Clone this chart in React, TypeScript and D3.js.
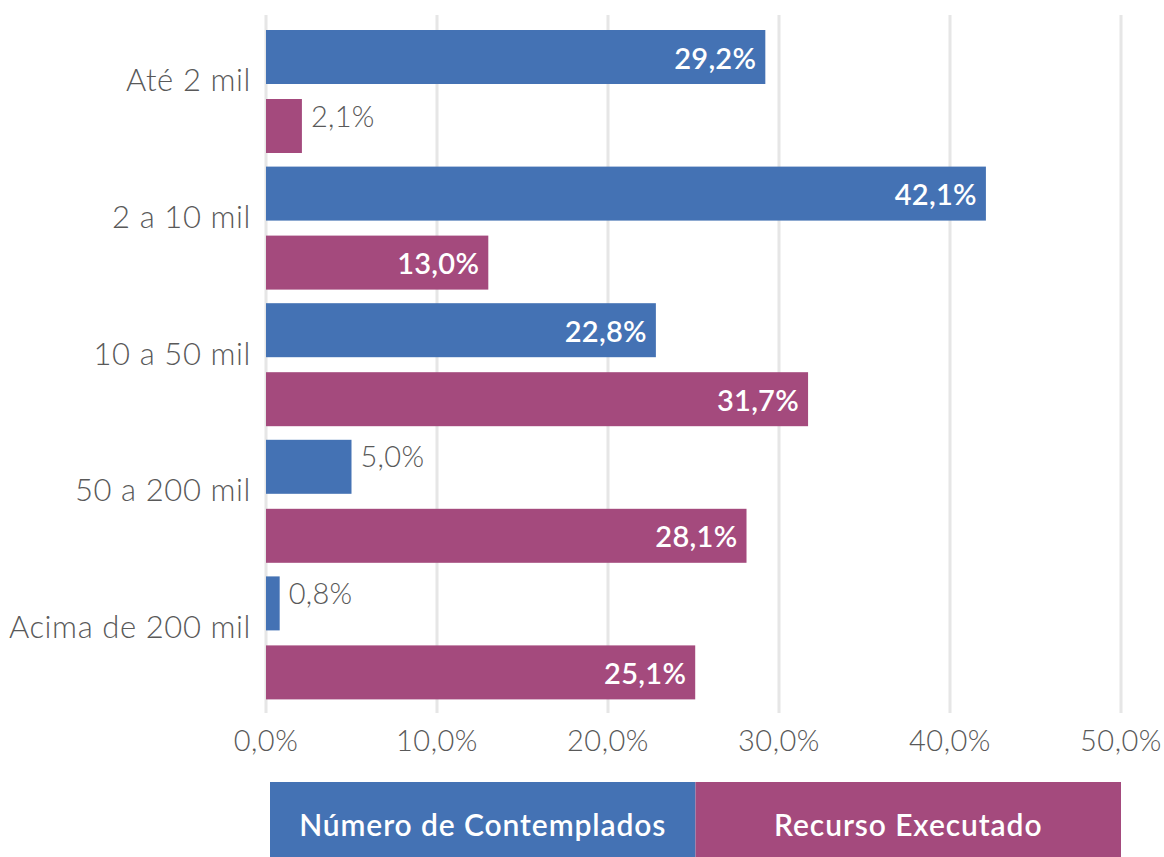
import React from "react";
import * as d3 from "d3";

const categories = ["Até 2 mil", "2 a 10 mil", "10 a 50 mil", "50 a 200 mil", "Acima de 200 mil"];
const contemplados = [29.2, 42.1, 22.8, 5.0, 0.8];
const recurso = [2.1, 13.0, 31.7, 28.1, 25.1];
const xTicks = [0, 10, 20, 30, 40, 50];
const seriesNames = ["Número de Contemplados", "Recurso Executado"];

const W = 1164;
const H = 857;
const BLUE = "#4472B4";
const MAG = "#A44A7D";
const GREY = "#595959";
const FONT = "Lato, 'Open Sans', sans-serif";

const fmt = (v: number) => v.toFixed(1).replace(".", ",") + "%";

export default function App() {
  const x = d3.scaleLinear().domain([0, 50]).range([266, 1121]);
  const y = d3.scaleBand<string>().domain(categories).range([11, 694]);
  const barH = 54;
  const offsets = [19, 88];
  const series = [contemplados, recurso];
  const colors = [BLUE, MAG];
  const legendX = d3.scaleBand<string>().domain(seriesNames).range([270, 1121]);

  return (
    <svg width={W} height={H} style={{ position: "absolute", left: 0, top: 0, background: "#fff" }} fontFamily={FONT}>
      {xTicks.map((t) => (
        <g key={t}>
          <line x1={x(t)} x2={x(t)} y1={15} y2={713} stroke="#E6E6E6" strokeWidth={3} />
          <text x={x(t)} y={739} textAnchor="middle" dominantBaseline="central" fontSize={29} fontWeight={300} letterSpacing={0.5} fill={GREY}>
            {fmt(t)}
          </text>
        </g>
      ))}
      {categories.map((c, i) => (
        <g key={c}>
          <text x={251} y={(y(c) as number) + y.bandwidth() / 2} textAnchor="end" dominantBaseline="central" fontSize={31} fontWeight={300} letterSpacing={0.6} fill={GREY}>
            {c}
          </text>
          {series.map((s, k) => {
            const v = s[i];
            const top = (y(c) as number) + offsets[k];
            const inside = v >= 10;
            return (
              <g key={k}>
                <rect x={x(0)} y={top} width={x(v) - x(0)} height={barH} fill={colors[k]} />
                <text
                  x={inside ? x(v) - 9 : x(v) + 9}
                  y={inside ? top + barH / 2 : top + barH / 2 - 11}
                  textAnchor={inside ? "end" : "start"}
                  dominantBaseline="central"
                  fontSize={29}
                  fontWeight={inside ? 600 : 300}
                  letterSpacing={0.3}
                  fill={inside ? "#fff" : GREY}
                >
                  {fmt(v)}
                </text>
              </g>
            );
          })}
        </g>
      ))}
      {seriesNames.map((n, k) => (
        <g key={n}>
          <rect x={legendX(n)} y={782} width={legendX.bandwidth()} height={H - 782} fill={colors[k]} />
          <text
            x={(legendX(n) as number) + legendX.bandwidth() / 2}
            y={824}
            textAnchor="middle"
            dominantBaseline="central"
            fontSize={30}
            fontWeight={600}
            letterSpacing={0.9}
            fill="#fff"
          >
            {n}
          </text>
        </g>
      ))}
    </svg>
  );
}
